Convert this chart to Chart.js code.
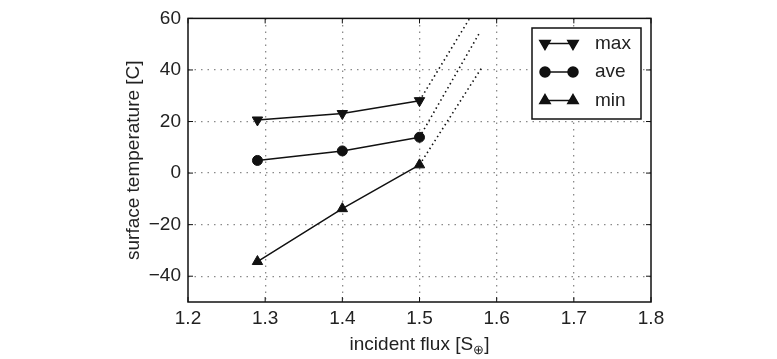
<!DOCTYPE html>
<html>
<head>
<meta charset="utf-8">
<script src="https://cdn.jsdelivr.net/npm/chart.js@4/dist/chart.umd.min.js"></script>
<style>
  html, body { margin: 0; padding: 0; background: #fff; }
  #wrap { width: 777px; height: 359px; }
</style>
</head>
<body>
<div id="wrap"><canvas id="myChart" width="777" height="359"></canvas></div>
<script>
// data
const fluxes = [1.29, 1.4, 1.5];
const tMax = [20.6, 23.1, 28.1];
const tAve = [4.9, 8.6, 13.9];
const tMin = [-34.3, -13.8, 3.2];

// dotted extrapolation from the 1.5 point
const extMaxX = [1.5, 1.565];
const extMax = [28.1, 60];
const extAveX = [1.5, 1.578];
const extAve = [13.9, 54.5];
const extMinX = [1.5, 1.58];
const extMin = [3.2, 40.6];

const xTicks = [1.2, 1.3, 1.4, 1.5, 1.6, 1.7, 1.8];
const yTicks = [-40, -20, 0, 20, 40, 60];

const FONT = "'Liberation Sans', Arial, sans-serif";
const INK = '#111';

function pts(xs, ys) {
    return xs.map((x, i) => ({ x: x, y: ys[i] }));
}

function series(label, xs, ys, style, rot, r) {
    return {
        label: label,
        data: pts(xs, ys),
        showLine: true,
        borderColor: INK,
        backgroundColor: INK,
        borderWidth: 1.5,
        pointStyle: style,
        pointRotation: rot,
        pointRadius: r,
        pointBorderWidth: 1,
        pointBackgroundColor: INK,
        pointBorderColor: INK
    };
}

function dotted(xs, ys) {
    return {
        label: '',
        data: pts(xs, ys),
        showLine: true,
        borderColor: INK,
        borderWidth: 1.6,
        borderDash: [1.5, 3.2],
        pointRadius: 0
    };
}

const legendItems = [
    { text: 'max', style: 'triangle', rot: 180, r: 6 },
    { text: 'ave', style: 'circle', rot: 0, r: 5 },
    { text: 'min', style: 'triangle', rot: 0, r: 6 }
];

// frame, inward ticks, boxed legend and the x title with its subscript
const framePlugin = {
    id: 'frame',
    afterDatasetsDraw(chart) {
        const ctx = chart.ctx;
        const a = chart.chartArea;
        const xs = chart.scales.x, ys = chart.scales.y;
        ctx.save();
        ctx.strokeStyle = INK;
        ctx.lineWidth = 1.5;
        ctx.strokeRect(a.left, a.top, a.right - a.left, a.bottom - a.top);
        ctx.lineWidth = 1;
        const tl = 5;
        ctx.beginPath();
        xTicks.forEach(v => {
            const px = xs.getPixelForValue(v);
            ctx.moveTo(px, a.bottom); ctx.lineTo(px, a.bottom - tl);
            ctx.moveTo(px, a.top); ctx.lineTo(px, a.top + tl);
        });
        yTicks.forEach(v => {
            const py = ys.getPixelForValue(v);
            ctx.moveTo(a.left, py); ctx.lineTo(a.left + tl, py);
            ctx.moveTo(a.right, py); ctx.lineTo(a.right - tl, py);
        });
        ctx.stroke();

        // legend box
        const bx = 532, by = 28, bw = 109, bh = 91;
        ctx.fillStyle = '#fff';
        ctx.fillRect(bx, by, bw, bh);
        ctx.lineWidth = 1.5;
        ctx.strokeStyle = INK;
        ctx.strokeRect(bx, by, bw, bh);
        legendItems.forEach((it, i) => {
            const y = 43.5 + i * 28.5;
            ctx.lineWidth = 1.5;
            ctx.beginPath();
            ctx.moveTo(545, y); ctx.lineTo(573, y);
            ctx.stroke();
            ctx.fillStyle = INK;
            [545, 573].forEach(x => {
                Chart.helpers.drawPoint(ctx, {
                    pointStyle: it.style, rotation: it.rot, radius: it.r, borderWidth: 1
                }, x, y);
                ctx.fill();
            });
            ctx.font = '19px ' + FONT;
            ctx.fillStyle = '#222';
            ctx.textBaseline = 'middle';
            ctx.textAlign = 'left';
            ctx.fillText(it.text, 595, y);
        });

        // x title: incident flux [S⊕] with subscript
        const big = '19px ' + FONT, small = '13px ' + FONT;
        const p1 = 'incident flux [S', p2 = '\u2295', p3 = ']';
        ctx.font = big;
        const w1 = ctx.measureText(p1).width, w3 = ctx.measureText(p3).width;
        ctx.font = small;
        const w2 = ctx.measureText(p2).width;
        let x0 = (a.left + a.right) / 2 - (w1 + w2 + w3) / 2;
        const base = 350;
        ctx.fillStyle = '#222';
        ctx.textAlign = 'left';
        ctx.textBaseline = 'alphabetic';
        ctx.font = big;
        ctx.fillText(p1, x0, base);
        ctx.font = small;
        ctx.fillText(p2, x0 + w1, base + 4);
        ctx.font = big;
        ctx.fillText(p3, x0 + w1 + w2, base);
        ctx.restore();
    }
};

function edgeColor(ends) {
    return c => (c.tick && ends.indexOf(c.tick.value) >= 0) ? 'rgba(0,0,0,0)' : '#8a8a8a';
}

const chart = new Chart(document.getElementById('myChart'), {
    type: 'scatter',
    data: {
        datasets: [
            series('max', fluxes, tMax, 'triangle', 180, 6),
            series('ave', fluxes, tAve, 'circle', 0, 5),
            series('min', fluxes, tMin, 'triangle', 0, 6),
            dotted(extMaxX, extMax),
            dotted(extAveX, extAve),
            dotted(extMinX, extMin)
        ]
    },
    options: {
        responsive: false,
        animation: false,
        layout: { padding: { left: 110, right: 126, top: 18, bottom: 0 } },
        plugins: {
            legend: { display: false },
            tooltip: { enabled: false }
        },
        scales: {
            x: {
                type: 'linear',
                min: 1.2,
                max: 1.8,
                afterBuildTicks: s => { s.ticks = xTicks.map(v => ({ value: v })); },
                afterFit: s => { s.height = 57; },
                ticks: {
                    color: '#222',
                    font: { family: FONT, size: 19 },
                    padding: 5,
                    maxRotation: 0,
                    callback: v => Number(v).toFixed(1)
                },
                grid: {
                    color: edgeColor([1.2, 1.8]),
                    lineWidth: 1.3,
                    drawTicks: false,
                    borderDash: [1.5, 5]
                },
                border: { display: false, dash: [1.5, 5] },
                title: { display: false }
            },
            y: {
                type: 'linear',
                min: -50,
                max: 60,
                afterBuildTicks: s => { s.ticks = yTicks.map(v => ({ value: v })); },
                afterFit: s => { s.width = 78; },
                ticks: {
                    color: '#222',
                    font: { family: FONT, size: 19 },
                    padding: 7,
                    callback: v => v < 0 ? '\u2212' + Math.abs(v) : String(v)
                },
                grid: {
                    color: edgeColor([60, -50]),
                    lineWidth: 1.3,
                    drawTicks: false,
                    borderDash: [1.5, 5]
                },
                border: { display: false, dash: [1.5, 5] },
                title: {
                    display: true,
                    text: 'surface temperature [C]',
                    color: '#222',
                    font: { family: FONT, size: 19 },
                    padding: { top: 12, bottom: 0 }
                }
            }
        }
    },
    plugins: [framePlugin]
});
</script>
</body>
</html>
